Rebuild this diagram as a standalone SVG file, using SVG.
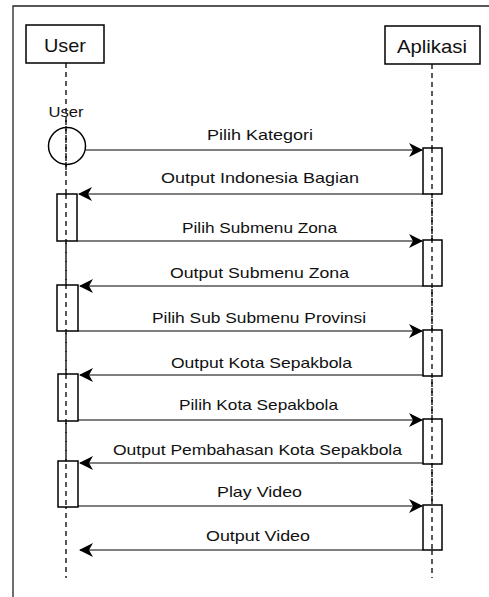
<svg xmlns="http://www.w3.org/2000/svg" width="489" height="597" viewBox="0 0 489 597">
<style>
.box{fill:#fff;stroke:#000;stroke-width:1.5}
.act{fill:#fff;stroke:#000;stroke-width:1.5}
.life{stroke:#000;stroke-width:1.3;stroke-dasharray:5 4;fill:none}
.msg{stroke:#000;stroke-width:1.2;fill:none}
.lbl{font-family:"Liberation Sans",Arial,sans-serif;font-size:15px;fill:#111;text-anchor:middle}
.hdr{font-family:"Liberation Sans",Arial,sans-serif;font-size:19px;fill:#111;text-anchor:middle}
</style>
<defs>
<marker id="ah" viewBox="0 0 14 14" refX="13" refY="7" markerWidth="14" markerHeight="14" markerUnits="userSpaceOnUse" orient="auto">
<path d="M0,0 L14,7 L0,14 L4,7 Z" fill="#000"/>
</marker>
</defs>
<rect width="489" height="597" fill="#fff"/>
<path d="M13,597 V6 H489" fill="none" stroke="#222" stroke-width="1.3"/>

<g id="lifeline-user">
<rect class="box" x="26" y="25" width="78" height="38"/>
<text class="hdr" x="65" y="52" textLength="42" lengthAdjust="spacingAndGlyphs">User</text>
<line class="life" x1="66" y1="63" x2="66" y2="578"/>
</g>
<g id="lifeline-aplikasi">
<rect class="box" x="385" y="26" width="95" height="38"/>
<text class="hdr" x="432" y="53" textLength="70" lengthAdjust="spacingAndGlyphs">Aplikasi</text>
<line class="life" x1="432" y1="64" x2="432" y2="578"/>
</g>
<g id="actor-user">
<text class="lbl" x="66" y="117" textLength="35" lengthAdjust="spacingAndGlyphs">User</text>
<circle cx="67" cy="146" r="18.5" fill="none" stroke="#000" stroke-width="1.5"/>
<line class="life" x1="66" y1="120" x2="66" y2="170"/>
</g>

<g id="activations-user">
<rect class="act" x="57" y="194" width="20" height="47"/>
<rect class="act" x="57" y="285" width="21" height="46"/>
<rect class="act" x="58" y="374" width="20" height="47"/>
<rect class="act" x="58" y="461" width="20" height="46"/>
<line class="life" x1="66" y1="194" x2="66" y2="507"/>
</g>
<g id="activations-aplikasi">
<rect class="act" x="423" y="148" width="19" height="46"/>
<rect class="act" x="423" y="240" width="19" height="46"/>
<rect class="act" x="423" y="330" width="19" height="46"/>
<rect class="act" x="423" y="419" width="19" height="45"/>
<rect class="act" x="423" y="505" width="19" height="45"/>
<line class="life" x1="432" y1="148" x2="432" y2="550"/>
</g>

<g id="connectors">
<line class="msg" x1="86" y1="150" x2="422" y2="150" marker-end="url(#ah)"/>
<line class="msg" x1="423" y1="194" x2="79" y2="194" marker-end="url(#ah)"/>
<line class="msg" x1="77" y1="241" x2="422" y2="241" marker-end="url(#ah)"/>
<line class="msg" x1="423" y1="286" x2="80" y2="286" marker-end="url(#ah)"/>
<line class="msg" x1="78" y1="331" x2="422" y2="331" marker-end="url(#ah)"/>
<line class="msg" x1="423" y1="375" x2="80" y2="375" marker-end="url(#ah)"/>
<line class="msg" x1="78" y1="420" x2="422" y2="420" marker-end="url(#ah)"/>
<line class="msg" x1="423" y1="463" x2="80" y2="463" marker-end="url(#ah)"/>
<line class="msg" x1="78" y1="506" x2="422" y2="506" marker-end="url(#ah)"/>
<line class="msg" x1="423" y1="550" x2="80" y2="550" marker-end="url(#ah)"/>
</g>

<g id="labels">
<text class="lbl" x="260" y="140" textLength="106" lengthAdjust="spacingAndGlyphs">Pilih Kategori</text>
<text class="lbl" x="260" y="183" textLength="198" lengthAdjust="spacingAndGlyphs">Output Indonesia Bagian</text>
<text class="lbl" x="259.5" y="233" textLength="155" lengthAdjust="spacingAndGlyphs">Pilih Submenu Zona</text>
<text class="lbl" x="259.5" y="278" textLength="179" lengthAdjust="spacingAndGlyphs">Output Submenu Zona</text>
<text class="lbl" x="259" y="323" textLength="214" lengthAdjust="spacingAndGlyphs">Pilih Sub Submenu Provinsi</text>
<text class="lbl" x="261.5" y="368" textLength="181" lengthAdjust="spacingAndGlyphs">Output Kota Sepakbola</text>
<text class="lbl" x="258.5" y="410" textLength="159" lengthAdjust="spacingAndGlyphs">Pilih Kota Sepakbola</text>
<text class="lbl" x="257.5" y="455" textLength="289" lengthAdjust="spacingAndGlyphs">Output Pembahasan Kota Sepakbola</text>
<text class="lbl" x="259.5" y="497" textLength="85" lengthAdjust="spacingAndGlyphs">Play Video</text>
<text class="lbl" x="258" y="541" textLength="104" lengthAdjust="spacingAndGlyphs">Output Video</text>
</g>
</svg>
